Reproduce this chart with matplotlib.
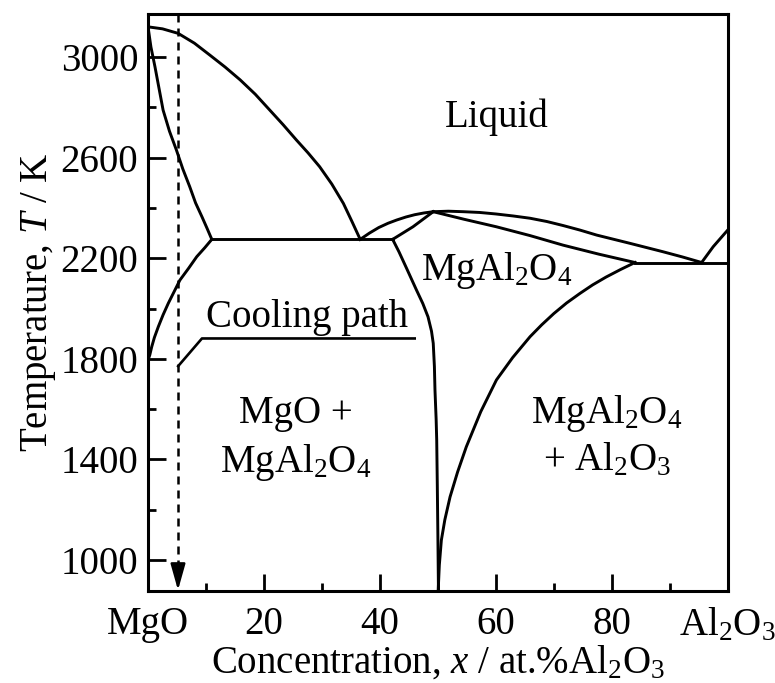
import numpy as np
import matplotlib
matplotlib.use("Agg")
import matplotlib.pyplot as plt

plt.rcParams['font.family'] = ['Liberation Serif', 'DejaVu Serif']
plt.rcParams['mathtext.fontset'] = 'custom'
plt.rcParams['mathtext.rm'] = 'Liberation Serif'
plt.rcParams['mathtext.it'] = 'Liberation Serif:italic'

# phase boundaries: x in at.% Al2O3, T in K
liq_mgo_x = [0.0, 2.5, 5.2, 8.0, 10.7, 13.3, 15.9, 18.5, 21.0, 23.3, 25.6, 27.6,
             29.6, 31.7, 33.7, 35.2, 36.6]
liq_mgo_t = [3120, 3112, 3094, 3055, 3007, 2960, 2909, 2852, 2789, 2731, 2670, 2619,
             2564, 2495, 2418, 2345, 2275]

sol_mgo_x = [0.0, 0.5, 1.2, 1.9, 2.6, 3.7, 4.9, 6.0, 7.2, 8.2, 9.3, 10.2, 11.0]
sol_mgo_t = [3120, 3040, 2961, 2875, 2789, 2705, 2630, 2555, 2484, 2420, 2365, 2318, 2275]

solv_mgo_x = [11.0, 9.8, 8.4, 7.0, 5.5, 4.5, 3.5, 2.6, 1.78, 1.1, 0.64, 0.3, 0.0]
solv_mgo_t = [2275, 2242, 2206, 2160, 2113, 2067, 2021, 1975, 1928, 1885, 1848, 1815, 1795]

eut1_x = [11.0, 42.2]
eut1_t = [2275, 2275]

liq_sp_left_x = [36.6, 38.2, 39.8, 41.4, 42.9, 44.5, 46.0, 47.6, 49.2]
liq_sp_left_t = [2275, 2300, 2322, 2339, 2352, 2364, 2373, 2380, 2385]

sol_sp_left_x = [42.2, 45.7, 49.2]
sol_sp_left_t = [2275, 2325, 2385]

liq_sp_right_x = [49.2, 51.8, 54.4, 57.2, 60.0, 63.0, 65.9, 68.8, 71.6, 74.5, 77.4,
                  80.2, 83.0, 85.9, 88.8, 92.2, 95.5]
liq_sp_right_t = [2385, 2387, 2385, 2382, 2376, 2368, 2359, 2346, 2330, 2312, 2292,
                  2276, 2260, 2243, 2226, 2205, 2183]

sol_sp_right_x = [49.2, 54.5, 60.1, 65.9, 71.6, 77.8, 84.0]
sol_sp_right_t = [2385, 2355, 2325, 2290, 2252, 2216, 2183]

eut2_x = [84.0, 100.0]
eut2_t = [2183, 2183]

liq_al_x = [95.5, 97.5, 100.0]
liq_al_t = [2183, 2246, 2312]

solv_sp_left_x = [42.2, 43.3, 44.6, 46.3, 47.4, 48.3, 48.9, 49.2, 49.4, 49.5, 49.7,
                  49.8, 49.9, 50.0, 50.1]
solv_sp_left_t = [2275, 2225, 2160, 2074, 2020, 1967, 1910, 1862, 1770, 1676, 1560,
                  1477, 1300, 1100, 877]

solv_sp_right_x = [84.0, 81.5, 79.0, 76.7, 74.5, 72.2, 70.0, 67.9, 65.9, 62.9, 60.1,
                   57.4, 54.9, 53.4, 52.1, 51.2, 50.6, 50.25, 50.05]
solv_sp_right_t = [2183, 2155, 2125, 2094, 2060, 2022, 1980, 1935, 1888, 1805, 1716,
                   1590, 1450, 1350, 1251, 1160, 1079, 980, 877]

cool_x = [5.2, 9.3, 46.0]
cool_t = [1771, 1881, 1881]

path_x = 5.17

xtick_pos = [0, 20, 40, 60, 80, 100]
xtick_lab = ['MgO', '20', '40', '60', '80', r'Al$_2$O$_3$']
ytick_pos = [1000, 1400, 1800, 2200, 2600, 3000]

fig = plt.figure(figsize=(7.75, 6.83), dpi=100)
ax = fig.add_axes([0.191, 0.1347, 0.748, 0.8448])

lw = 2.1
curves = [(liq_mgo_x, liq_mgo_t), (sol_mgo_x, sol_mgo_t), (solv_mgo_x, solv_mgo_t),
          (eut1_x, eut1_t), (liq_sp_left_x, liq_sp_left_t), (sol_sp_left_x, sol_sp_left_t),
          (liq_sp_right_x, liq_sp_right_t), (sol_sp_right_x, sol_sp_right_t),
          (eut2_x, eut2_t), (liq_al_x, liq_al_t), (solv_sp_left_x, solv_sp_left_t),
          (solv_sp_right_x, solv_sp_right_t)]
for cx, ct in curves:
    ax.plot(cx, ct, color='black', lw=lw, solid_joinstyle='round')

ax.plot(cool_x, cool_t, color='black', lw=1.9)

# cooling path arrow
dash, = ax.plot([path_x, path_x], [3171, 960], color='black', lw=1.8)
dash.set_dashes((3.2, 2.4))
ax.annotate('', xy=(path_x, 880), xytext=(path_x, 975),
            arrowprops=dict(arrowstyle='-|>,head_length=1.6,head_width=0.45',
                            color='black', lw=1.8, shrinkA=0, shrinkB=0))

fs = 28
ax.text(60.2, 2761, 'Liquid', fontsize=fs, ha='center', va='center')
ax.text(60.2, 2113, r'MgAl$_2$O$_4$', fontsize=fs, ha='center', va='baseline')
ax.text(27.4, 1926, 'Cooling path', fontsize=fs, ha='center', va='baseline')
ax.text(25.5, 1545, 'MgO +', fontsize=fs, ha='center', va='baseline')
ax.text(25.5, 1350, r'MgAl$_2$O$_4$', fontsize=fs, ha='center', va='baseline')
ax.text(79.2, 1545, r'MgAl$_2$O$_4$', fontsize=fs, ha='center', va='baseline')
ax.text(79.2, 1358, r'+ Al$_2$O$_3$', fontsize=fs, ha='center', va='baseline')

ax.set_xlim(0, 100)
ax.set_ylim(877, 3171)
ax.set_xticks(xtick_pos)
ax.set_xticklabels(xtick_lab)
ax.set_xticks([10, 30, 50, 70, 90], minor=True)
ax.set_yticks(ytick_pos)
ax.set_yticks([1200, 1600, 2000, 2400, 2800], minor=True)
ax.tick_params(which='both', direction='in', labelsize=fs, width=2.0,
               top=False, right=False)
ax.tick_params(axis='x', which='major', length=12, pad=11)
ax.tick_params(axis='x', which='minor', length=6)
ax.tick_params(axis='y', which='major', length=13, pad=7)
ax.tick_params(axis='y', which='minor', length=6)
for s in ax.spines.values():
    s.set_linewidth(2.2)

ax.set_xlabel(r'Concentration, $x$ / at.%Al$_2$O$_3$', fontsize=fs, labelpad=0)
ax.set_ylabel(r'Temperature, $T$ / K', fontsize=fs, labelpad=2)

fig.savefig('out.png', dpi=100)
